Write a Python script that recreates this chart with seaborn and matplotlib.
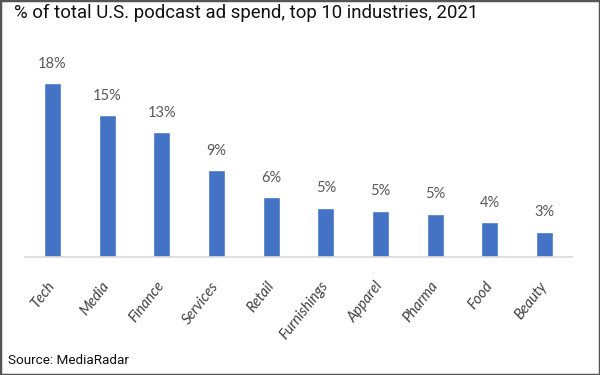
import pandas as pd
import seaborn as sns
import matplotlib.pyplot as plt
from matplotlib.patches import Rectangle

# Data
industries = ["Tech", "Media", "Finance", "Services", "Retail",
              "Furnishings", "Apparel", "Pharma", "Food", "Beauty"]
share = [18.0, 14.7, 12.9, 9.0, 6.2, 5.1, 4.8, 4.5, 3.6, 2.6]
share_labels = ["18%", "15%", "13%", "9%", "6%", "5%", "5%", "5%", "4%", "3%"]

df = pd.DataFrame({"industry": industries, "share": share})

sns.set_theme(style="white")
plt.rcParams["font.family"] = ["Lato", "DejaVu Sans"]

fig = plt.figure(figsize=(6, 3.75), dpi=100)
ax = fig.add_axes([25 / 600, 1 - 257 / 375, 547 / 600, 197 / 375])

sns.barplot(data=df, x="industry", y="share", color="#4472C4",
            saturation=1, width=0.31, ax=ax)

ax.set_ylim(0, 20.4)
ax.set_xlim(-0.5, len(industries) - 0.5)
ax.bar_label(ax.containers[0], labels=share_labels, padding=9,
             fontsize=10.5, color="#595959")

# Axis styling: only a light baseline
for side in ["top", "right", "left"]:
    ax.spines[side].set_visible(False)
ax.spines["bottom"].set_color("#D9D9D9")
ax.spines["bottom"].set_linewidth(1.2)
ax.set_yticks([])
ax.set_xlabel("")
ax.set_ylabel("")
ax.tick_params(axis="x", length=0, pad=19)
plt.setp(ax.get_xticklabels(), rotation=52, ha="right", va="center",
         rotation_mode="anchor", fontstyle="italic", fontsize=10.5,
         color="#404040")

# Title and source
fig.text(14 / 600, 1 - 4 / 375,
         "% of total U.S. podcast ad spend, top 10 industries, 2021",
         ha="left", va="top", fontsize=13.4, family=["Roboto", "DejaVu Sans"],
         color="#111111")
fig.text(8 / 600, 1 - 360 / 375, "Source: MediaRadar", ha="left",
         va="center", fontsize=9.7, family=["Roboto", "DejaVu Sans"],
         color="#111111")

# Gray frame around the picture
fig.patches.append(Rectangle((0, 0), 1, 1, transform=fig.transFigure,
                             fill=False, edgecolor="#555555", linewidth=2.5))

fig.savefig("out.png", dpi=100)
